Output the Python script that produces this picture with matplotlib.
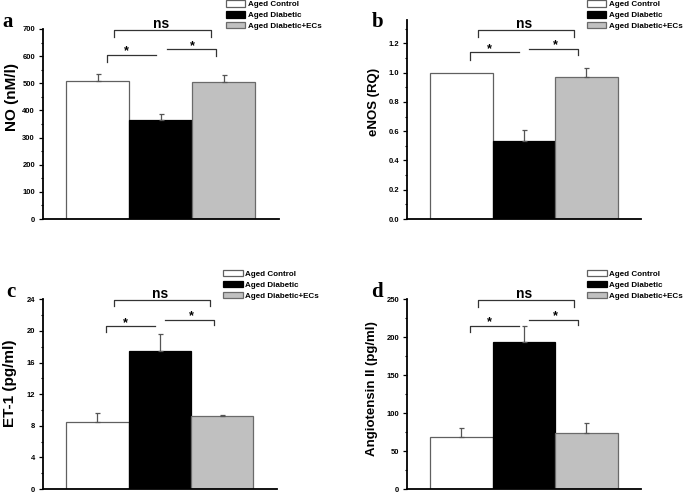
import matplotlib
matplotlib.use("Agg")
import matplotlib.pyplot as plt
from matplotlib.patches import Patch
from matplotlib.ticker import MultipleLocator, FormatStrFormatter
import numpy as np

plt.rcParams['font.family'] = ['Liberation Sans', 'DejaVu Sans']

# ---------------- data ----------------
groups = ["Aged Control", "Aged Diabetic", "Aged Diabetic+ECs"]
bar_colors = ["#ffffff", "#000000", "#c0c0c0"]
edge_colors = ["#606060", "#000000", "#6a6a6a"]

no_vals = [510, 365, 506]
no_err = [23, 20, 26]

enos_vals = [1.00, 0.53, 0.97]
enos_err = [0.0, 0.08, 0.06]

et1_vals = [8.45, 17.4, 9.27]
et1_err = [1.13, 2.15, 0.08]

ang_vals = [69, 194, 74]
ang_err = [11, 21, 13]

panel_letters = ["a", "b", "c", "d"]
ylabels = ["NO (nM/l)", "eNOS (RQ)", "ET-1 (pg/ml)", "Angiotensin II (pg/ml)"]
sig_labels = ["*", "*", "ns"]

# ---------------- figure ----------------
W, H = 685, 495
fig = plt.figure(figsize=(W / 100, H / 100), dpi=100)


def fx(px):
    return px / W


def fy(py):
    return 1 - py / H


panels = [
    dict(vals=no_vals, err=no_err, box=(42.7, 279, 29, 219), ylim=(0, 700),
         major=100, minor=50, fmt="%d", ylab_fs=11, ylab_pos=(-0.13, 0.642),
         letter_xy=(2, 27), legend_xy=(226, 0.3),
         levels=dict(left=(604, 580), right=(625, 600), big=(696, 670))),
    dict(vals=enos_vals, err=enos_err, box=(406.7, 641, 20, 219), ylim=(0, 1.36),
         major=0.2, minor=0.1, fmt="%.1f", ylab_fs=9.5, ylab_pos=(-0.14, 0.59),
         letter_xy=(372, 27), legend_xy=(587, 0.3),
         levels=dict(left=(1.139, 1.089), right=(1.164, 1.121), big=(1.29, 1.247))),
    dict(vals=et1_vals, err=et1_err, box=(42.7, 276.7, 299.3, 489), ylim=(0, 24),
         major=4, minor=2, fmt="%d", ylab_fs=11, ylab_pos=(-0.14, 0.559),
         letter_xy=(6, 297), legend_xy=(223.3, 270),
         levels=dict(left=(20.6, 19.9), right=(21.4, 20.7), big=(23.9, 23.1))),
    dict(vals=ang_vals, err=ang_err, box=(406.7, 641, 299.3, 489), ylim=(0, 250),
         major=50, minor=25, fmt="%d", ylab_fs=9.5, ylab_pos=(-0.148, 0.532),
         letter_xy=(371, 297), legend_xy=(587.3, 270),
         levels=dict(left=(214.8, 207), right=(222.7, 216), big=(249, 240))),
]

x = np.arange(len(groups))
bracket_x = dict(left=(0.14, 0.93), right=(1.09, 1.87), big=(0.26, 1.80))
text_x = dict(left=0.45, right=1.5, big=1.0)

for i, p in enumerate(panels):
    l, r, t, b = p["box"]
    ax = fig.add_axes([fx(l), fy(b), fx(r - l), (b - t) / H])
    ax.bar(x, p["vals"], width=1.0, color=bar_colors, edgecolor=edge_colors,
           linewidth=0.9, zorder=2)
    vals = np.asarray(p["vals"], dtype=float)
    errs = np.asarray(p["err"], dtype=float)
    has = errs > 0
    ax.errorbar(x[has], vals[has], yerr=[np.zeros(has.sum()), errs[has]], fmt="none",
                ecolor="#555555", elinewidth=0.9, capsize=1.8, capthick=0.9,
                zorder=3)
    ax.set_xlim(-0.875, 2.875)
    ax.set_ylim(*p["ylim"])
    for s in ["top", "right"]:
        ax.spines[s].set_visible(False)
    for s in ["left", "bottom"]:
        ax.spines[s].set_linewidth(1.3)
        ax.spines[s].set_color("black")
    ax.set_xticks([])
    ax.yaxis.set_major_locator(MultipleLocator(p["major"]))
    ax.yaxis.set_minor_locator(MultipleLocator(p["minor"]))
    ax.yaxis.set_major_formatter(FormatStrFormatter(p["fmt"]))
    ax.tick_params(axis="y", which="major", direction="out", length=3, width=0.9,
                   labelsize=5.5, pad=2.5)
    ax.tick_params(axis="y", which="minor", direction="out", length=1.6, width=0.8)
    for lab in ax.get_yticklabels():
        lab.set_fontweight("bold")
    ax.set_ylabel(ylabels[i], fontsize=p["ylab_fs"], fontweight="bold", va="center")
    ax.yaxis.set_label_coords(*p["ylab_pos"])

    # significance brackets
    lv = p["levels"]
    for key, lab in zip(["left", "right", "big"], sig_labels):
        x0, x1 = bracket_x[key]
        y, yleg = lv[key]
        if key == "left":
            xs, ys = [x0, x0, x1], [yleg, y, y]
        elif key == "right":
            xs, ys = [x0, x1, x1], [y, y, yleg]
        else:
            xs, ys = [x0, x0, x1, x1], [yleg, y, y, yleg]
        ax.plot(xs, ys, color="#333333", lw=0.9, clip_on=False, zorder=4)
        if lab == "ns":
            ax.annotate(lab, xy=(text_x[key], y), xytext=(0, 1.6),
                        textcoords="offset points", ha="center", va="baseline",
                        fontsize=10, fontweight="bold", annotation_clip=False)
        else:
            ax.annotate(lab, xy=(text_x[key], y), xytext=(0, 0.3),
                        textcoords="offset points", ha="center", va="baseline",
                        fontsize=9, fontweight="bold", annotation_clip=False)

    # panel letter
    fig.text(fx(p["letter_xy"][0]), fy(p["letter_xy"][1]), panel_letters[i],
             family=["Liberation Serif"], fontweight="bold", fontsize=15,
             ha="left", va="baseline")

    # legend
    handles = [Patch(facecolor=c, edgecolor=e, linewidth=0.9)
               for c, e in zip(bar_colors, edge_colors)]
    lx, ly = p["legend_xy"]
    fig.legend(handles, groups, loc="upper left",
               bbox_to_anchor=(fx(lx), fy(ly)), bbox_transform=fig.transFigure,
               frameon=False, borderpad=0, borderaxespad=0,
               handlelength=2.4, handleheight=0.85, handletextpad=0.35,
               labelspacing=0.35, prop=dict(size=5.8, weight="bold"))

fig.savefig("out.png", dpi=100)
